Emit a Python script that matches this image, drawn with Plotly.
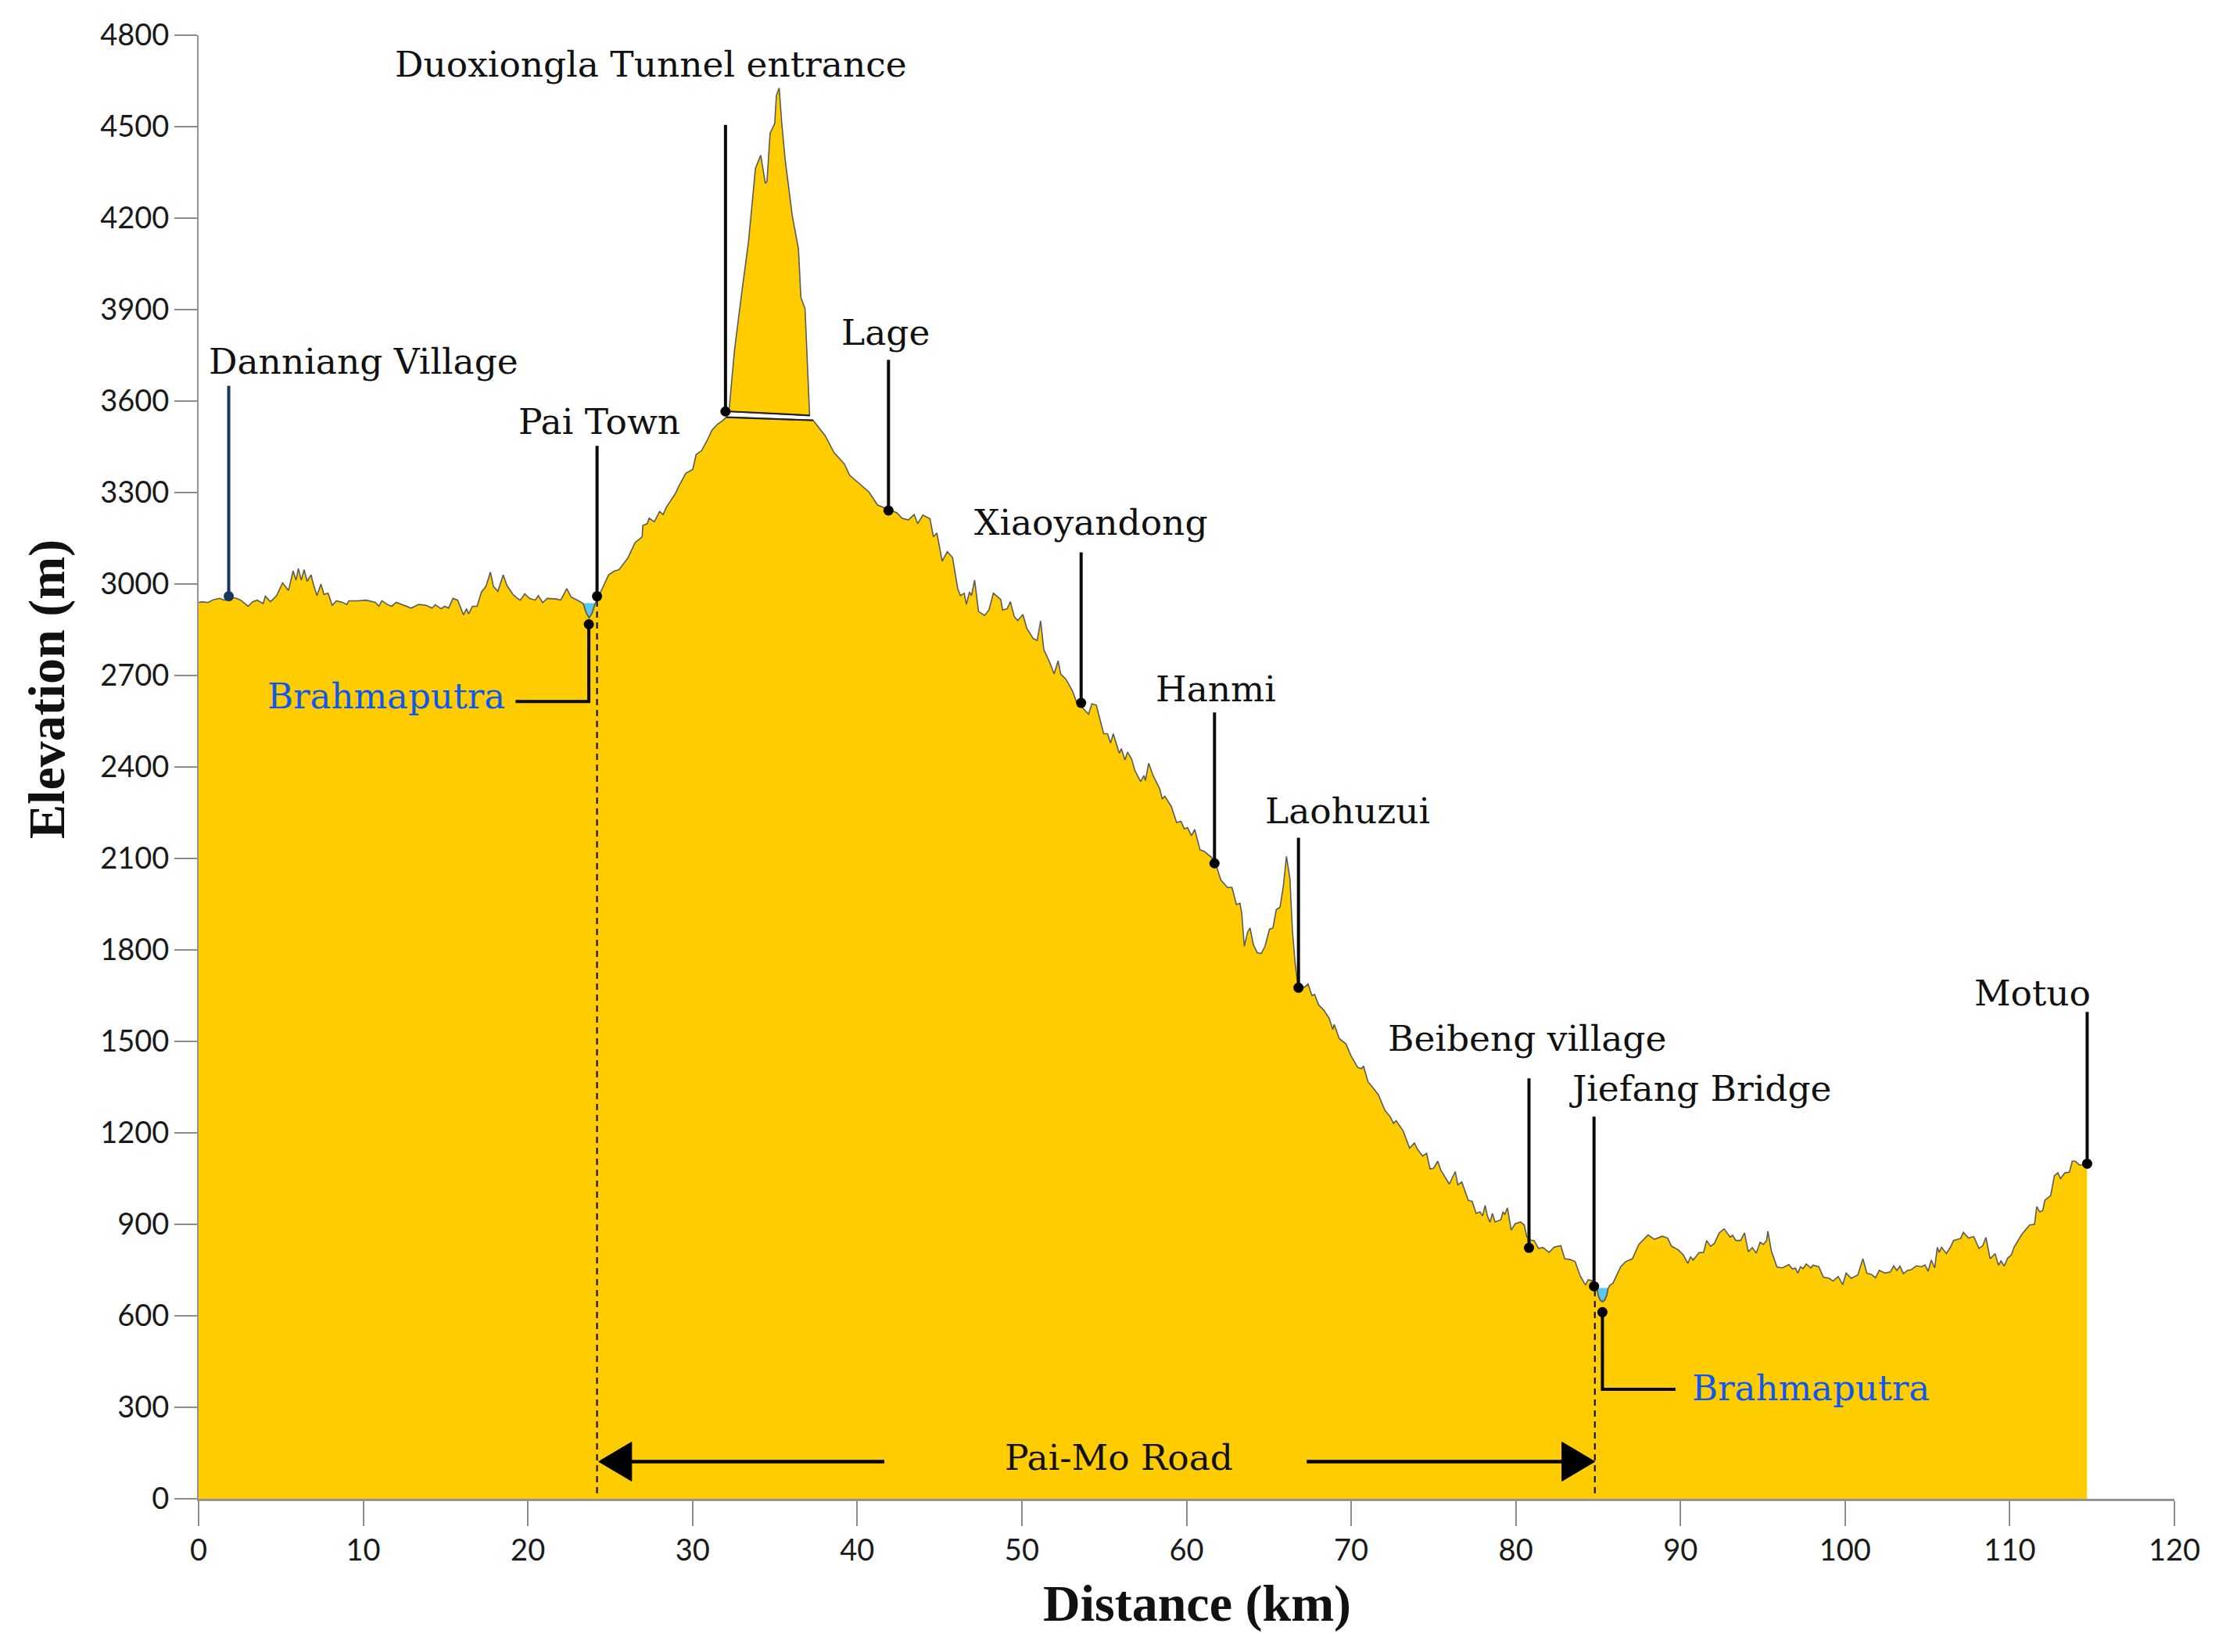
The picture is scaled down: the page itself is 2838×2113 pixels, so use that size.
import plotly.graph_objects as go

# ---- elevation profile (km, m) ----
km_west = [0, 0.2, 0.56, 0.92, 1.29, 1.56, 1.92, 2.29, 2.56, 3.01, 3.28, 3.56, 3.92, 4.05, 4.37, 4.74, 5.10, 5.28, 5.46, 5.74, 5.92, 6.06, 6.23, 6.41, 6.59, 6.83, 7.01, 7.19, 7.43, 7.61, 7.86, 8.12, 8.37, 8.73, 9.0, 9.13, 9.64, 10.19, 10.73, 10.95, 11.13, 11.46, 11.73, 12.0, 12.37, 12.91, 13.37, 13.82, 14.18, 14.37, 14.73, 14.95, 15.18, 15.45, 15.73, 16.09, 16.27, 16.40, 16.63, 16.91, 17.18, 17.45, 17.72, 17.91, 18.18, 18.5, 18.72, 19.09, 19.36, 19.54, 19.81, 20.09, 20.45, 20.63, 20.9, 21.17, 21.72, 21.99, 22.36, 22.63, 23.08, 23.36, 23.55, 23.72, 23.9, 24.08, 24.2, 24.35, 24.9, 25.26, 25.53, 26.08]
m_west = [2939, 2942, 2939, 2949, 2953, 2947, 2957, 2953, 2947, 2927, 2942, 2947, 2936, 2960, 2942, 2962, 3004, 2992, 2979, 3043, 3013, 3051, 3013, 3047, 3009, 3030, 2992, 2962, 3000, 2966, 2970, 2930, 2945, 2940, 2933, 2945, 2945, 2947, 2940, 2927, 2945, 2933, 2927, 2940, 2933, 2921, 2933, 2930, 2921, 2932, 2919, 2927, 2921, 2953, 2947, 2899, 2919, 2902, 2927, 2927, 2974, 2992, 3039, 2992, 2976, 3030, 2996, 2966, 2953, 2947, 2968, 2953, 2947, 2962, 2939, 2953, 2951, 2947, 2985, 2957, 2945, 2936, 2905, 2889, 2905, 2936, 2950, 2966, 3030, 3043, 3047, 3086]

km_climb = [26.51, 26.94, 26.98, 27.25, 27.36, 27.68, 28.0, 28.21, 28.42, 28.95, 29.16, 29.59, 30.01, 30.22, 30.54, 30.86, 31.17, 31.49, 31.81, 32.04, 37.32, 38.06, 38.59, 38.91, 39.22, 39.54, 40.18, 40.71, 41.24, 41.83, 42.4, 42.72, 43.1, 43.46, 43.67, 43.99, 44.42, 44.63, 44.84, 45.16, 45.47, 45.79]
m_climb = [3136, 3155, 3192, 3198, 3216, 3204, 3238, 3228, 3253, 3296, 3320, 3363, 3376, 3425, 3437, 3468, 3504, 3523, 3535, 3547, 3537, 3486, 3431, 3412, 3394, 3357, 3326, 3302, 3259, 3247, 3234, 3216, 3210, 3228, 3198, 3226, 3214, 3155, 3167, 3075, 3106, 3087]

km_slope = [46.11, 46.27, 46.5, 46.63, 46.82, 46.94, 47.13, 47.37, 47.74, 48.0, 48.27, 48.72, 48.83, 49.11, 49.3, 49.54, 49.75, 50.06, 50.3, 50.69, 50.93, 51.14, 51.33, 51.72, 51.96, 52.2, 52.36, 52.67, 53.07, 53.3, 53.62, 54.05, 54.25, 54.52, 54.97, 55.2, 55.39, 55.55, 55.92, 56.04, 56.26, 56.42, 56.66, 56.86, 57.21, 57.42, 57.5, 57.7, 57.97, 58.37, 58.53, 58.68, 59.08, 59.4, 59.66, 59.87, 60.06, 60.3, 60.5, 60.82, 61.06, 61.53, 61.85, 62.08, 62.48, 62.76, 63.03, 63.24, 63.35, 63.51, 63.71, 63.86, 64.06, 64.3, 64.54, 64.77, 65.04, 65.25, 65.45, 65.68, 65.88, 66.07]
m_slope = [2983, 2962, 2970, 2933, 2974, 2962, 3013, 2910, 2897, 2915, 2970, 2949, 2915, 2919, 2942, 2893, 2880, 2900, 2855, 2821, 2815, 2879, 2786, 2739, 2705, 2748, 2705, 2688, 2650, 2616, 2598, 2573, 2607, 2603, 2509, 2509, 2479, 2509, 2445, 2460, 2423, 2449, 2427, 2389, 2352, 2372, 2355, 2412, 2372, 2329, 2295, 2304, 2270, 2218, 2222, 2197, 2201, 2175, 2195, 2128, 2124, 2103, 2069, 2030, 2005, 2005, 1949, 1953, 1923, 1812, 1859, 1872, 1817, 1791, 1788, 1812, 1868, 1872, 1932, 1940, 2009, 2107]

km_lower = [66.28, 66.43, 66.59, 66.75, 67.15, 67.38, 67.62, 67.78, 68.02, 68.33, 68.65, 68.89, 68.97, 69.28, 69.68, 69.99, 70.39, 70.63, 70.75, 71.02, 71.34, 71.65, 72.05, 72.37, 72.57, 72.73, 73.16, 73.55, 73.84, 74.03, 74.34, 74.58, 74.79, 75.01, 75.26, 75.45, 75.96, 76.32, 76.48, 76.72, 77.11, 77.35, 77.59, 77.82, 77.98, 78.14, 78.27, 78.43, 78.58, 78.74, 79.09, 79.22, 79.33, 79.49, 79.72, 79.96, 80.28, 80.51]
m_lower = [2034, 1864, 1761, 1688, 1677, 1688, 1650, 1654, 1620, 1603, 1577, 1539, 1556, 1509, 1492, 1453, 1415, 1411, 1419, 1368, 1347, 1325, 1274, 1253, 1231, 1240, 1206, 1150, 1167, 1146, 1124, 1133, 1082, 1084, 1107, 1077, 1032, 1073, 1030, 1039, 979, 975, 936, 941, 928, 962, 928, 907, 936, 908, 915, 941, 932, 954, 881, 902, 908, 898]

km_valley = [80.67, 80.91, 81.11, 81.38, 81.65, 82.02, 82.33, 82.73, 82.97, 83.28, 83.6, 83.91, 84.23, 84.39, 84.71, 84.94, 85.0, 85.12, 85.26, 85.4, 85.52, 85.6, 85.73, 85.89, 86.37, 86.68, 87.08, 87.47, 88.03, 88.42, 88.9]
m_valley = [859, 848, 847, 821, 824, 808, 825, 830, 787, 785, 778, 731, 701, 718, 714, 690, 668, 652, 646, 652, 668, 690, 701, 706, 761, 778, 787, 834, 865, 851, 861]

km_east = [89.22, 89.46, 89.85, 90.17, 90.45, 90.61, 90.77, 91.12, 91.4, 91.59, 91.83, 92.07, 92.35, 92.65, 93.02, 93.17, 93.36, 93.65, 93.89, 94.12, 94.36, 94.6, 94.84, 95.04, 95.23, 95.31, 95.52, 95.86, 96.18, 96.58, 96.81, 96.97, 97.13, 97.29, 97.45, 97.64, 97.92, 98.05, 98.4, 98.68, 99.03, 99.27, 99.58, 99.85, 100.06, 100.37, 100.77, 101.08, 101.32]
m_east = [855, 828, 817, 800, 772, 793, 783, 807, 808, 847, 828, 838, 872, 885, 858, 864, 847, 847, 872, 810, 824, 806, 841, 834, 847, 877, 813, 760, 757, 768, 753, 757, 740, 761, 755, 770, 757, 766, 761, 727, 723, 714, 729, 702, 740, 723, 734, 787, 740]

km_motuo = [101.59, 101.85, 102.07, 102.43, 102.75, 102.95, 103.14, 103.33, 103.54, 103.78, 104.01, 104.33, 104.65, 104.85, 105.04, 105.23, 105.44, 105.6, 105.71, 105.86, 106.15, 106.39, 106.59, 107.02, 107.18, 107.49, 107.81, 108.13, 108.36, 108.55, 108.81, 109.11, 109.31, 109.47, 109.66, 109.87, 110.1, 110.26, 110.74, 111.21, 111.5, 111.64, 111.81, 112.0, 112.13, 112.48, 112.71, 112.92, 113.08, 113.35, 113.62, 113.79, 113.98, 114.22, 114.69]
m_motuo = [736, 725, 749, 740, 744, 764, 749, 763, 738, 749, 751, 764, 761, 767, 746, 783, 757, 825, 808, 825, 804, 825, 847, 854, 874, 855, 860, 821, 830, 857, 787, 804, 766, 780, 763, 789, 800, 825, 868, 898, 900, 958, 941, 945, 979, 994, 1060, 1069, 1050, 1069, 1071, 1107, 1107, 1095, 1095]

# mountain above the tunnel
km_peak = [32.23, 32.55, 32.98, 33.4, 33.82, 34.14, 34.42, 34.52, 34.71, 34.99, 35.09, 35.26, 35.41, 35.62, 36.05, 36.43, 36.58, 36.83, 37.11, 32.23]
m_peak = [3578, 3768, 3952, 4124, 4363, 4406, 4314, 4320, 4479, 4510, 4602, 4627, 4516, 4394, 4210, 4099, 3940, 3903, 3553, 3566]

# river pools
km_pool_pai = [23.36, 23.55, 23.72, 23.9, 24.08, 23.36]
m_pool_pai = [2936, 2905, 2889, 2905, 2936, 2936]
km_pool_bridge = [84.94, 85.0, 85.12, 85.26, 85.4, 85.52, 85.6, 84.94]
m_pool_bridge = [690, 668, 652, 646, 652, 668, 690, 690]

# places: name, km of the dot, m of the dot, m of the leader top
place_names = ["Pai Town", "Duoxiongla Tunnel entrance", "Lage", "Xiaoyandong", "Hanmi", "Laohuzui", "Beibeng village", "Jiefang Bridge", "Motuo"]
place_km = [24.2, 32.0, 41.9, 53.6, 61.7, 66.8, 80.8, 84.75, 114.7]
place_m = [2960, 3566, 3241, 2610, 2084, 1676, 823, 697, 1099]
leader_top = [3453, 4506, 3735, 3104, 2579, 2168, 1379, 1253, 1597]

danniang_km, danniang_m, danniang_top = 1.83, 2960, 3650
river_dot_km = [23.7, 85.26]
river_dot_m = [2868, 612]
river_elbow_m = [2615, 359]
river_end_km = [19.25, 89.7]

road_start_km, road_end_km = 24.2, 84.8
road_y = 122
arrow_left_km = [24.3, 26.3, 26.3, 24.3]
arrow_right_km = [84.8, 82.8, 82.8, 84.8]
arrow_m = [122, 186, 58, 122]
shaft_left_km = [26.3, 41.65]
shaft_right_km = [67.3, 82.8]

x_ticks = list(range(0, 121, 10))
y_ticks = list(range(0, 4801, 300))

# label text, centre km, centre m
label_names = ["Duoxiongla Tunnel entrance", "Danniang Village", "Pai Town", "Lage", "Xiaoyandong", "Hanmi", "Laohuzui", "Beibeng village", "Jiefang Bridge", "Motuo", "Pai-Mo Road"]
label_km = [27.46, 10.0, 24.35, 41.7, 54.2, 61.8, 69.8, 80.7, 91.2, 111.4, 55.9]
label_m = [4704, 3730, 3532, 3824, 3202, 2655, 2255, 1509, 1346, 1658, 135]
river_label_km = [11.4, 97.9]
river_label_m = [2632, 363]

YELLOW = "#FFCC00"
EDGE = "#5a5a5a"
SERIF = "DejaVu Serif"

km_ground = km_west + km_climb + km_slope + km_lower + km_valley + km_east + km_motuo
m_ground = m_west + m_climb + m_slope + m_lower + m_valley + m_east + m_motuo

fig = go.Figure()


def add(x, y, **kw):
    fig.add_trace(go.Scatter(x=x, y=y, showlegend=False, hoverinfo="skip", **kw))


add(km_ground, m_ground, mode="lines", fill="tozeroy", fillcolor=YELLOW,
    line=dict(color=EDGE, width=1.6))
add(km_peak, m_peak, mode="lines", fill="toself", fillcolor=YELLOW,
    line=dict(color=EDGE, width=1.6))
# flat tunnel-floor edges drawn darker
add([km_climb[19], km_climb[20]], [m_climb[19], m_climb[20]], mode="lines",
    line=dict(color="#222222", width=2.2))
add([km_peak[-1], km_peak[-2]], [m_peak[-1], m_peak[-2]], mode="lines",
    line=dict(color="#222222", width=2.2))
for kx, my in ((km_pool_pai, m_pool_pai), (km_pool_bridge, m_pool_bridge)):
    add(kx, my, mode="lines", fill="toself", fillcolor="#5CC8EE",
        line=dict(color="#5CC8EE", width=1))
    add(kx[:-1], my[:-1], mode="lines", line=dict(color=EDGE, width=1.6))

# dashed limits of the road
for k, top in ((road_start_km, 2950), (road_end_km, 697)):
    add([k, k], [18, top], mode="lines",
        line=dict(color="#111111", width=2.2, dash="8px,6px"))

# leader lines
lx, ly = [], []
for k, m, t in zip(place_km, place_m, leader_top):
    lx += [k, k, None]
    ly += [m, t, None]
for k, m, e, end in zip(river_dot_km, river_dot_m, river_elbow_m, river_end_km):
    lx += [k, k, end, None]
    ly += [m, e, e, None]
add(lx, ly, mode="lines", line=dict(color="#0a0a0a", width=4))
add([danniang_km, danniang_km], [danniang_m, danniang_top], mode="lines",
    line=dict(color="#17375E", width=4))

# road arrows
add(shaft_left_km, [road_y, road_y], mode="lines", line=dict(color="#000000", width=4.5))
add(shaft_right_km, [road_y, road_y], mode="lines", line=dict(color="#000000", width=4.5))
for kx in (arrow_left_km, arrow_right_km):
    add(kx, arrow_m, mode="lines", fill="toself", fillcolor="#000000",
        line=dict(color="#000000", width=1))

# dots
add(place_km + river_dot_km, place_m + river_dot_m, mode="markers",
    marker=dict(color="#000000", size=13))
add([danniang_km], [danniang_m], mode="markers", marker=dict(color="#17375E", size=13))

notes = []
for name, k, m in zip(label_names, label_km, label_m):
    notes.append(dict(x=k, y=m, xref="x", yref="y", text=name, showarrow=False,
                      xanchor="center", yanchor="middle",
                      font=dict(family=SERIF, size=45.5, color="#111111")))
for k, m in zip(river_label_km, river_label_m):
    notes.append(dict(x=k, y=m, xref="x", yref="y", text="Brahmaputra", showarrow=False,
                      xanchor="center", yanchor="middle",
                      font=dict(family=SERIF, size=45, color="#0F58EE")))
notes.append(dict(x=0.5053, y=-0.0716, xref="paper", yref="paper",
                  text="<b>Distance (km)</b>", showarrow=False, xanchor="center", yanchor="middle",
                  font=dict(family="Liberation Serif", size=66, color="#111111")))
notes.append(dict(x=-0.0765, y=0.5533, xref="paper", yref="paper",
                  text="<b>Elevation (m)</b>", showarrow=False, xanchor="center", yanchor="middle",
                  textangle=-90,
                  font=dict(family="Liberation Serif", size=66, color="#111111")))

axis_line = "rgba(90,90,90,0.65)"
tick_font = dict(family="Lato", size=38, color="#1a1a1a")

fig.update_layout(
    width=2838, height=2113,
    margin=dict(l=253.5, r=56.5, t=44.5, b=196, pad=0),
    paper_bgcolor="white", plot_bgcolor="white",
    showlegend=False, annotations=notes,
    xaxis=dict(range=[0, 120], tickmode="array", tickvals=x_ticks, ticktext=[str(v) for v in x_ticks],
               ticks="outside", ticklen=32, tickwidth=2, tickcolor="#8c8c8c",
               showline=True, linecolor=axis_line, linewidth=3, showgrid=False, zeroline=False,
               tickfont=tick_font, ticklabelstandoff=-2),
    yaxis=dict(range=[0, 4800], tickmode="array", tickvals=y_ticks, ticktext=[str(v) for v in y_ticks],
               ticks="outside", ticklen=29, tickwidth=2, tickcolor="#8c8c8c",
               showline=True, linecolor=axis_line, linewidth=2, showgrid=False, zeroline=False,
               tickfont=tick_font, ticklabelstandoff=-1),
)

fig.write_html("out.html", config=dict(displayModeBar=False),
               post_script="document.body.style.margin='0';")
